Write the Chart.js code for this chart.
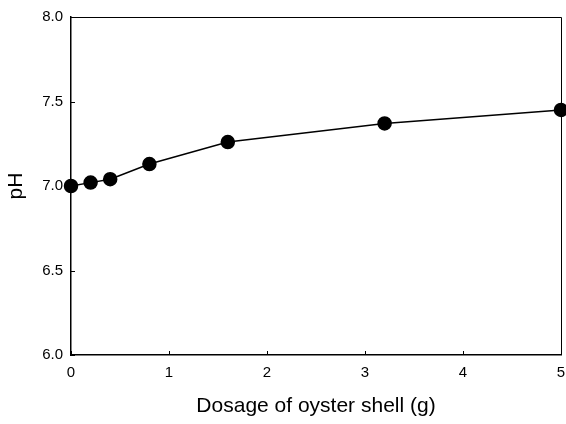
<!DOCTYPE html>
<html>
<head>
<meta charset="utf-8">
<script src="https://cdn.jsdelivr.net/npm/chart.js@4"></script>
<style>
  html, body { margin: 0; padding: 0; background: #fff; }
  #wrap { width: 566px; height: 424px; }
</style>
</head>
<body>
<div id="wrap"><canvas id="ph-chart"></canvas></div>
<script>
const doses = [0, 0.2, 0.4, 0.8, 1.6, 3.2, 5];
const ph = [7.0, 7.02, 7.04, 7.13, 7.26, 7.37, 7.45];
const xTicks = [0, 1, 2, 3, 4, 5];
const yTicks = [6.0, 6.5, 7.0, 7.5, 8.0];

const ctx = document.getElementById("ph-chart");
const fontFamily = "'Liberation Sans', Arial, sans-serif";

// box around plot + small inward ticks
const framePlugin = {
  id: "frame",
  afterDraw(chart) {
    const c = chart.ctx;
    const a = chart.chartArea;
    const xs = chart.scales.x;
    const ys = chart.scales.y;
    c.save();
    c.strokeStyle = "#000";
    c.lineWidth = 1;
    c.beginPath();
    c.moveTo(a.left, a.top + 0.5);
    c.lineTo(a.right + 0.5, a.top + 0.5);
    c.lineTo(a.right + 0.5, a.bottom);
    c.stroke();
    c.beginPath();
    xTicks.forEach((v) => {
      const px = Math.round(xs.getPixelForValue(v)) + 0.5;
      c.moveTo(px, a.bottom);
      c.lineTo(px, a.bottom - 4);
    });
    yTicks.forEach((v) => {
      const py = Math.round(ys.getPixelForValue(v)) + 0.5;
      c.moveTo(a.left, py);
      c.lineTo(a.left + 4, py);
    });
    c.stroke();
    c.restore();
  },
};

new Chart(ctx, {
  type: "line",
  data: {
    datasets: [
      {
        data: doses.map((d, i) => ({ x: d, y: ph[i] })),
        borderColor: "#000",
        borderWidth: 1.5,
        pointBackgroundColor: "#000",
        pointBorderColor: "#000",
        pointRadius: 6.5,
        pointHoverRadius: 6.5,
        tension: 0,
        clip: false,
      },
    ],
  },
  options: {
    responsive: true,
    maintainAspectRatio: false,
    animation: false,
    events: [],
    layout: {
      autoPadding: false,
      padding: { top: 13, right: 5, left: 0, bottom: 0 },
    },
    plugins: {
      legend: { display: false },
      tooltip: { enabled: false },
    },
    scales: {
      x: {
        type: "linear",
        min: 0,
        max: 5,
        afterBuildTicks: (s) => { s.ticks = xTicks.map((v) => ({ value: v })); },
        afterFit: (s) => {
          s.height = 424 - 355;
          s.paddingRight = 0;
          s.paddingLeft = 0;
        },
        grid: { display: false, drawTicks: false, tickLength: 0 },
        border: { display: true, color: "#000", width: 1.5 },
        ticks: {
          color: "#000",
          padding: 9,
          maxRotation: 0,
          font: { family: fontFamily, size: 15 },
        },
        title: {
          display: true,
          text: "Dosage of oyster shell (g)",
          color: "#000",
          padding: { top: 0, bottom: 5 },
          font: { family: fontFamily, size: 21 },
        },
      },
      y: {
        min: 6,
        max: 8,
        afterBuildTicks: (s) => { s.ticks = yTicks.map((v) => ({ value: v })); },
        afterFit: (s) => { s.width = 71; },
        grid: { display: false, drawTicks: false, tickLength: 0 },
        border: { display: true, color: "#000", width: 1.5 },
        ticks: {
          color: "#000",
          padding: 8,
          callback: (v) => Number(v).toFixed(1),
          font: { family: fontFamily, size: 15 },
        },
        title: {
          display: true,
          text: "pH",
          color: "#000",
          padding: { top: 4, bottom: 0 },
          font: { family: fontFamily, size: 21 },
        },
      },
    },
  },
  plugins: [framePlugin],
});
</script>
</body>
</html>
